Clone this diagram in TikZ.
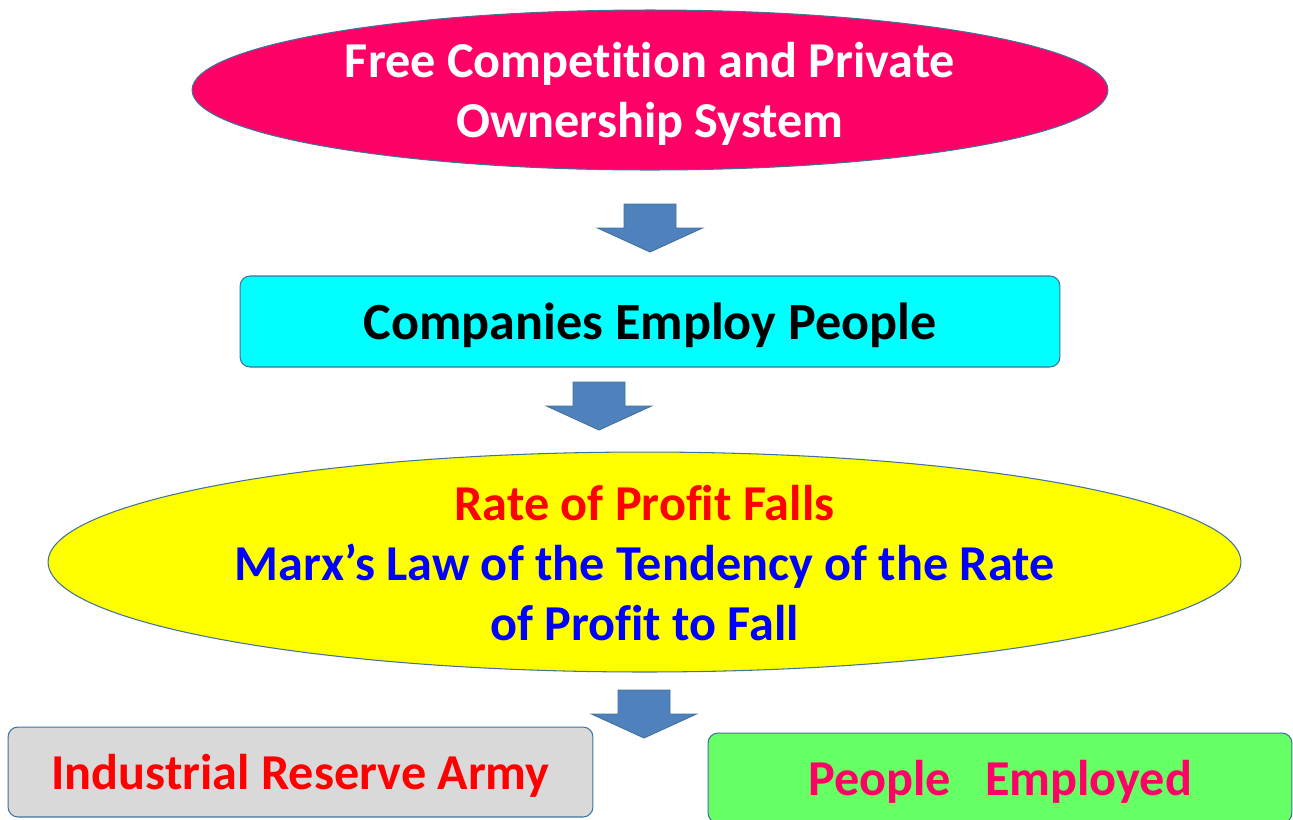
\documentclass[tikz,border=0pt]{standalone}
\usepackage{fontspec}
\setmainfont{Carlito}[Ligatures=NoCommon]
\usepackage{tikz}
\usetikzlibrary{positioning,shapes.geometric}
\definecolor{ownpink}{HTML}{FF0066}
\definecolor{hirecyan}{HTML}{00FFFF}
\definecolor{rateyellow}{HTML}{FFFF00}
\definecolor{armygray}{HTML}{D9D9D9}
\definecolor{jobgreen}{HTML}{66FF66}
\definecolor{arrblue}{HTML}{4F81BD}
\definecolor{edgeblue}{HTML}{41719C}

\begin{document}
\begin{tikzpicture}[x=0.02cm, y=-0.02cm,
    oval/.style={draw=edgeblue, line width=0.6pt, ellipse, inner sep=0pt},
    block/.style={draw=edgeblue, line width=0.6pt, rounded corners=0.2cm, inner sep=0pt},
    label/.style={align=center, font=\fontsize{28.6}{34}\selectfont\bfseries, yshift=-0.08cm},
    blockarrow/.style={draw=edgeblue, line width=0.5pt, fill=arrblue},
]
\useasboundingbox (0,0) rectangle (1293,819);
\clip (0,0) rectangle (1293,819);

\node[oval, fill=ownpink, minimum width=18.32cm, minimum height=3.2cm] (own) at (650,90) {};
\node[label, white] (ownlbl) at (own.center) {Free Competition and Private\\Ownership System};

\node[block, fill=hirecyan, minimum width=16.4cm, minimum height=1.82cm] (hire) at (650,321.5) {};
\node[label, font=\fontsize{29.7}{34}\selectfont\bfseries] (hirelbl) at (hire.center) {Companies Employ People};

\node[oval, fill=rateyellow, minimum width=23.86cm, minimum height=4.4cm] (rate) at (644.5,562) {};
\node[label, yshift=0.06cm] (ratelbl) at (rate.center) {\textcolor{red}{Rate of Profit Falls}\\
  \textcolor{blue}{Marx’s Law of the Tendency of the Rate}\\
  \textcolor{blue}{of Profit to Fall}};

\node[block, fill=armygray, minimum width=11.7cm, minimum height=1.8cm] (army) at (300.5,772) {};
\node[label, red] (armylbl) at (army.center) {Industrial Reserve Army};

\node[block, fill=jobgreen, minimum width=11.68cm, minimum height=1.8cm] (job) at (1000,778) {};
\node[label, ownpink] (joblbl) at (job.center) {People~~~Employed};

% block arrows
\coordinate (arrA) at (650,204);
\coordinate (arrB) at (599,382);
\coordinate (arrC) at (644,690);
\foreach \a in {arrA,arrB,arrC}
  \draw[blockarrow] (\a) ++(-26,0) -- ++(52,0) -- ++(0,24) -- ++(26.5,0)
    -- ++(-52.5,24) -- ++(-52.5,-24) -- ++(26.5,0) -- cycle;
\end{tikzpicture}
\end{document}
